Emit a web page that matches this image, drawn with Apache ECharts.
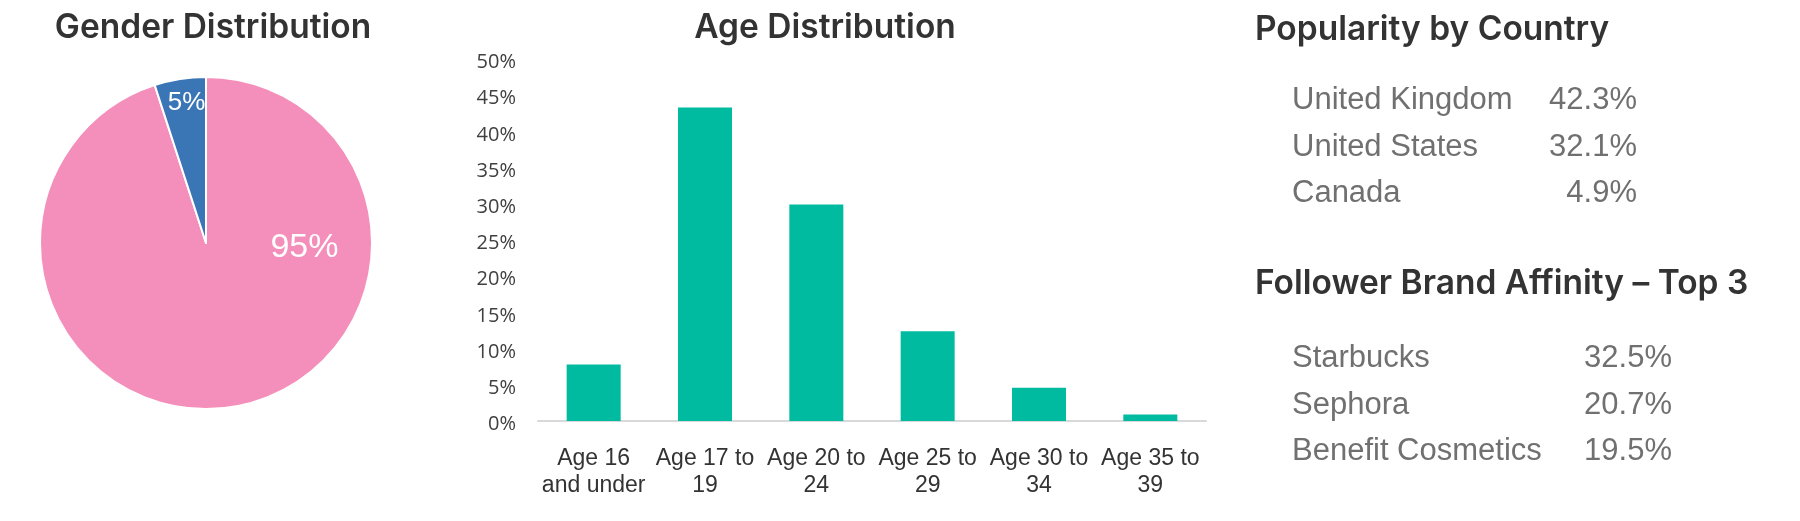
<!DOCTYPE html>
<html>
<head>
<meta charset="utf-8">
<script src="https://cdn.jsdelivr.net/npm/echarts@6/dist/echarts.min.js"></script>
<style>
html,body{margin:0;padding:0;background:#fff;}
#chart{width:1800px;height:521px;}
</style>
</head>
<body>
<div id="chart"></div>
<script>
// ---- data ----
var genderNames = ['Female', 'Male'];
var genderValues = [95, 5];
var genderColors = ['#F48EBA', '#3A75B5'];

var ageCategories = ['Age 16\nand under', 'Age 17 to\n19', 'Age 20 to\n24', 'Age 25 to\n29', 'Age 30 to\n34', 'Age 35 to\n39'];
var ageValues = [7.8, 43.3, 29.9, 12.4, 4.6, 0.9];
var ageTicks = [0, 5, 10, 15, 20, 25, 30, 35, 40, 45, 50];

var countries = ['United Kingdom', 'United States', 'Canada'];
var countryValues = [42.3, 32.1, 4.9];

var brands = ['Starbucks', 'Sephora', 'Benefit Cosmetics'];
var brandValues = [32.5, 20.7, 19.5];

var titles = ['Gender Distribution', 'Age Distribution', 'Popularity by Country', 'Follower Brand Affinity \u2013 Top 3'];

// ---- chart ----
var chart = echarts.init(document.getElementById('chart'), null, {renderer: 'canvas'});
var titleFont = {fontFamily: 'Inter', fontWeight: 600, fontSize: 33.5, color: '#333333'};
var rowFont = {fontFamily: 'Liberation Sans', fontSize: 31, color: '#707070'};
function pct(v){ return v.toFixed(1) + '%'; }
function tableAxis(grid, data, pos) {
  return {
    type: 'category', gridIndex: grid, data: data, inverse: true, position: pos,
    axisLine: {show: false}, axisTick: {show: false}, splitLine: {show: false},
    axisLabel: Object.assign({inside: true, margin: 0}, rowFont)
  };
}

var option = {
  animation: false,
  backgroundColor: '#ffffff',
  title: [
    {text: titles[0], left: 208, top: 6, textAlign: 'center', textStyle: titleFont},
    {text: titles[1], left: 820, top: 6, textAlign: 'center', textStyle: titleFont},
    {text: titles[2], left: 1250, top: 8, textStyle: titleFont},
    {text: titles[3], left: 1250, top: 262, textStyle: titleFont}
  ],
  grid: [
    {left: 538, right: 594, top: 59, bottom: 100},
    {left: 1292, width: 345, top: 77, height: 140},
    {left: 1292, width: 380, top: 335, height: 140}
  ],
  xAxis: [
    {
      type: 'category', gridIndex: 0, data: ageCategories,
      axisLine: {lineStyle: {color: '#D9D9D9', width: 2}},
      axisTick: {show: false},
      axisLabel: {interval: 0, margin: 24, fontFamily: 'Liberation Sans', fontSize: 23, lineHeight: 27, color: '#333333'}
    },
    {type: 'value', gridIndex: 1, show: false},
    {type: 'value', gridIndex: 2, show: false}
  ],
  yAxis: [
    {
      type: 'value', gridIndex: 0, min: ageTicks[0], max: ageTicks[ageTicks.length - 1], interval: 5,
      splitLine: {show: false}, axisLine: {show: false}, axisTick: {show: false},
      axisLabel: {formatter: '{value}%', margin: 22, verticalAlign: 'top', lineHeight: 7, fontFamily: 'Open Sans', fontSize: 20, color: '#404040'}
    },
    tableAxis(1, countries, 'left'),
    tableAxis(1, countryValues.map(pct), 'right'),
    tableAxis(2, brands, 'left'),
    tableAxis(2, brandValues.map(pct), 'right')
  ],
  series: [
    {
      type: 'pie',
      center: [206, 243],
      radius: 166,
      startAngle: 90,
      clockwise: true,
      itemStyle: {borderColor: '#ffffff', borderWidth: 2},
      label: {show: true, position: 'inside', formatter: '{c}%', color: '#ffffff', fontFamily: 'Liberation Sans'},
      labelLine: {show: false},
      labelLayout: function (p) {
        return p.dataIndex === 0 ? {dx: 85, dy: -80} : {dx: -6, dy: -55};
      },
      data: genderValues.map(function (v, i) {
        return {
          value: v, name: genderNames[i],
          itemStyle: {color: genderColors[i]},
          label: {fontSize: i === 0 ? 34 : 26}
        };
      })
    },
    {
      type: 'bar',
      xAxisIndex: 0, yAxisIndex: 0,
      data: ageValues,
      barWidth: 54,
      itemStyle: {color: '#00BBA0'}
    }
  ]
};
chart.setOption(option);
</script>
</body>
</html>
